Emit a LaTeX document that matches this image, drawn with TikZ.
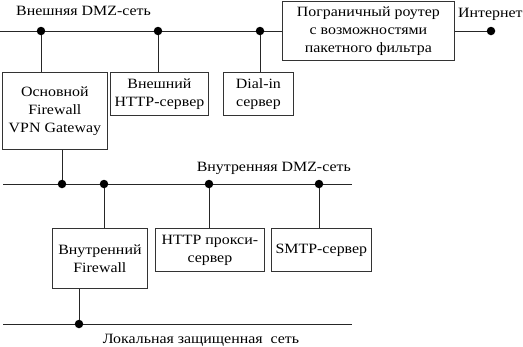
\documentclass[tikz,border=0pt]{standalone}
\usepackage{fontspec}
\setmainfont{Liberation Serif}[FakeStretch=1.12]

\begin{document}
\begin{tikzpicture}[x=1pt,y=-1pt,
	box/.style={draw=black!80, line width=.8pt, align=center, inner sep=0pt, anchor=north west, font=\fontsize{14.2}{18}\selectfont},
	dot/.style={circle, fill=black, inner sep=0pt, minimum size=8.5pt},
	lbl/.style={inner sep=0pt, font=\fontsize{14.2}{18}\selectfont},
	bus/.style={line width=1pt, black!85}]
			\useasboundingbox (0,0) rectangle (523,346);
			% boxes
			\node[box, minimum width=172, minimum height=59] (router) at (282,1) {Пограничный роутер\\с возможностями\\пакетного фильтра};
			\node[box, minimum width=105, minimum height=77] (mainfw) at (2,72) {Основной\\Firewall\\VPN Gateway};
			\node[box, minimum width=98, minimum height=43] (exthttp) at (110,72) {Внешний\\HTTP-сервер};
			\node[box, minimum width=70, minimum height=43] (dialin) at (223,72) {Dial-in\\сервер};
			\node[box, minimum width=95, minimum height=60] (innerfw) at (52,228) {Внутренний\\Firewall};
			\node[box, minimum width=109, minimum height=43] (proxy) at (155,228) {HTTP прокси-\\сервер};
			\node[box, minimum width=100, minimum height=43] (smtp) at (271,228) {SMTP-сервер};
			% buses
			\coordinate (outerL) at (0,31);
			\coordinate (innerL) at (3,184);
			\coordinate (innerR) at (352,184);
			\coordinate (localL) at (3,324);
			\coordinate (localR) at (352,324);
			\draw[bus] (outerL) -- (outerL -| router.west);
			\draw[bus] (innerL) -- (innerR);
			\draw[bus] (localL) -- (localR);
			% taps
			\node[dot] (o1) at (41,31) {};
			\node[dot] (o2) at (158,31) {};
			\node[dot] (o3) at (260,31) {};
			\node[dot] (inet) at (491,31) {};
			\node[dot] (i1) at (62,184) {};
			\node[dot] (i2) at (104,184) {};
			\node[dot] (i3) at (209,184) {};
			\node[dot] (i4) at (319,184) {};
			\node[dot] (l1) at (79,324) {};
			\draw[bus] (router.east |- inet) -- (inet);
			\draw[bus] (o1) -- (o1 |- mainfw.north);
			\draw[bus] (o2) -- (o2 |- exthttp.north);
			\draw[bus] (o3) -- (o3 |- dialin.north);
			\draw[bus] (i1) -- (i1 |- mainfw.south);
			\draw[bus] (i2) -- (i2 |- innerfw.north);
			\draw[bus] (i3) -- (i3 |- proxy.north);
			\draw[bus] (i4) -- (i4 |- smtp.north);
			\draw[bus] (l1) -- (l1 |- innerfw.south);
			% labels
			\node[lbl, anchor=west] (outerlbl) at (16,11) {Внешняя DMZ-сеть};
			\node[lbl, anchor=east] (innerlbl) at (351,168) {Внутренняя DMZ-сеть};
			\node[lbl] (locallbl) at (201,340) {Локальная защищенная\ \ сеть};
			\node[lbl, anchor=west] (inetlbl) at (458,14) {Интернет};
			\end{tikzpicture}
\end{document}
